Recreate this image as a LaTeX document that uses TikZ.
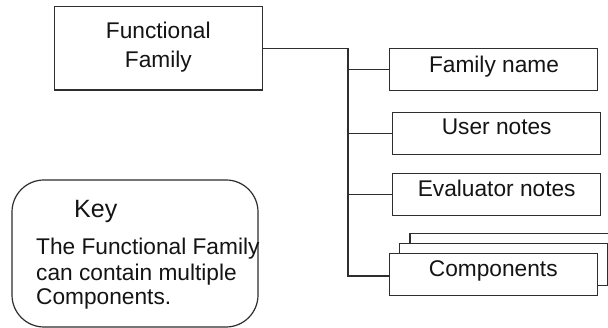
\documentclass[tikz,border=0pt]{standalone}
\usepackage{fontspec}
\setmainfont{Liberation Sans}
\definecolor{linec}{gray}{0.18}
\definecolor{textc}{gray}{0.08}
\tikzset{
  boxnode/.style={draw=linec, line width=1.2pt, fill=white, rectangle, minimum width=208pt, minimum height=42pt, inner sep=0pt},
  txt/.style={inner sep=0pt, text=textc, font=\fontsize{22.7}{27}\selectfont},
  keytxt/.style={inner sep=0pt, text=textc, font=\fontsize{25}{30}\selectfont},
  conn/.style={draw=linec, line width=1.2pt}
}
\begin{document}
\begin{tikzpicture}[x=1pt,y=-1pt]
\clip (0,0) rectangle (608,328);
\fill[white] (0,0) rectangle (608,328);
% main box
\node[boxnode, minimum width=208pt, minimum height=83.3pt] (ff) at (158.3,48.3) {};
\node[txt, anchor=base] (fft1) at (158.3,39) {Functional};
\node[txt, anchor=base] (fft2) at (158.3,68) {Family};
% stacked components (back first)
\node[boxnode] (compback) at (514,254.3) {};
\node[boxnode] (compmid) at (503.5,264.3) {};
\node[boxnode] (comp) at (493.5,274.3) {};
\node[txt, anchor=base] (compt) at (493.3,276.7) {Components};
% other boxes
\node[boxnode] (fn) at (493.3,69.2) {};
\node[txt, anchor=base] (fnt) at (494,72.7) {Family name};
\node[boxnode] (un) at (496.2,133.3) {};
\node[txt, anchor=base] (unt) at (496.7,135) {User notes};
\node[boxnode] (en) at (496.5,194.5) {};
\node[txt, anchor=base] (ent) at (496.7,196.7) {Evaluator notes};
% connectors
\coordinate (tb) at (348,276);
\draw[conn] (ff.east) -| (tb) -- (tb -| comp.west);
\draw[conn] (fn.west) -- (fn.west -| tb);
\draw[conn] (un.west) -- (un.west -| tb);
\draw[conn] (en.west) -- (en.west -| tb);
% key
\node[draw=linec, line width=1.2pt, rounded corners=32pt, minimum width=246pt, minimum height=147pt, inner sep=0pt] (key) at (135,253.5) {};
\node[keytxt, anchor=base west] (keyt) at (74,217.3) {Key};
\node[txt, anchor=base west] (k1) at (36,254.3) {The Functional Family};
\node[txt, anchor=base west] (k2) at (36,280.7) {can contain multiple};
\node[txt, anchor=base west] (k3) at (36,304.3) {Components.};
\end{tikzpicture}
\end{document}
